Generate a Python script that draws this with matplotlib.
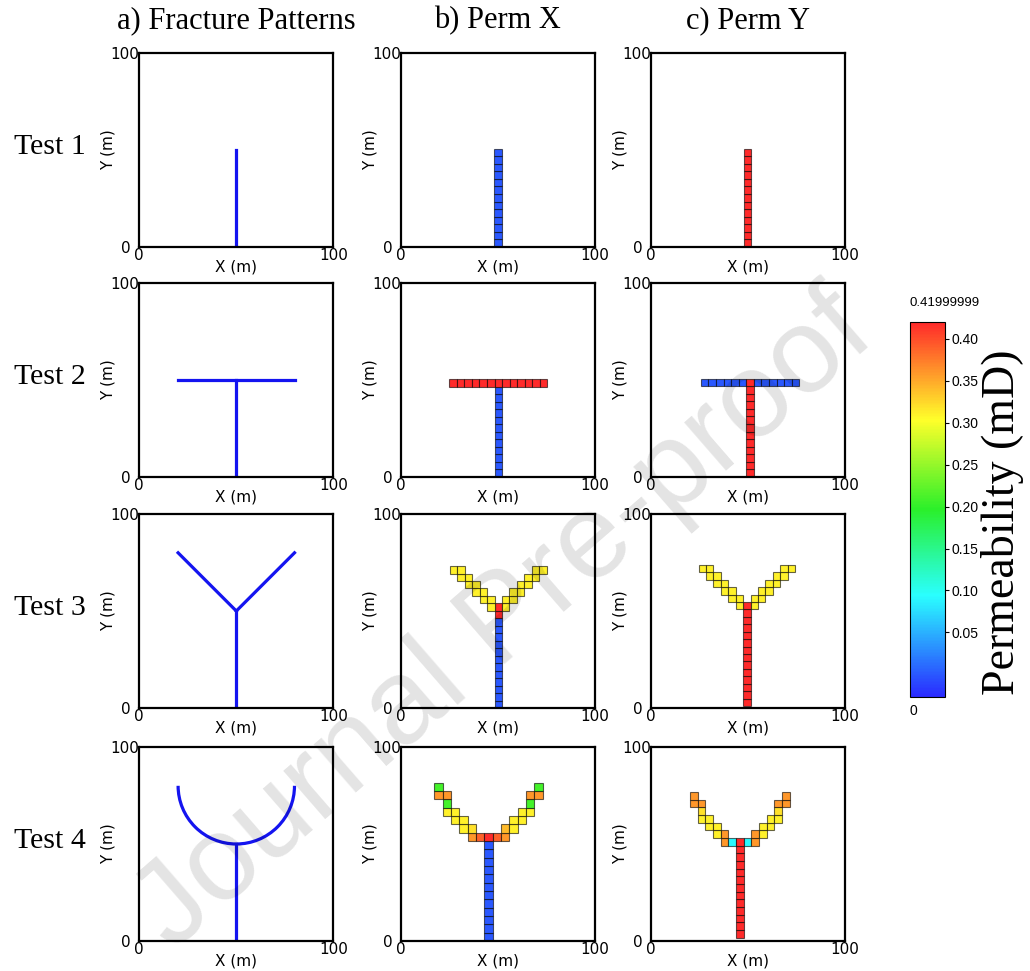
import numpy as np
import matplotlib.pyplot as plt
import matplotlib.cm as cm
from matplotlib.colors import LinearSegmentedColormap, Normalize
from matplotlib.patches import Arc

# ---- fracture traces (m) ----
stem_x = [50, 50]
stem_y = [0, 50]
t2_bar_x = [20, 80]
t2_bar_y = [50, 50]
t3_left_x = [50, 20]
t3_left_y = [50, 80]
t3_right_x = [50, 80]
t3_right_y = [50, 80]
t4_arc_center = (50, 80)
t4_arc_radius = 30

# ---- fracture cells: column / row index from the stem cell, perm X / perm Y (mD) ----
t1_col = [0] * 13
t1_row = list(range(13))
t1_kx = [0.0] * 13
t1_ky = [0.42] * 13

t2_col = [0] * 12 + [-6, -5, -4, -3, -2, -1, 0, 1, 2, 3, 4, 5, 6]
t2_row = list(range(12)) + [12] * 13
t2_kx = [0.0] * 12 + [0.42] * 13
t2_ky = [0.42] * 12 + [0.0] * 6 + [0.42] + [0.0] * 6

t3_col = [0] * 14 + [-1, 1, -2, -1, 1, 2, -3, -2, 2, 3, -4, -3, 3, 4,
                     -5, -4, 4, 5, -6, -5, 5, 6]
t3_row = list(range(14)) + [13] * 2 + [14] * 4 + [15] * 4 + [16] * 4 + [17] * 4 + [18] * 4
t3_kx = [0.0] * 12 + [0.42] * 2 + [0.31] * 22
t3_ky = [0.42] * 14 + [0.31] * 22

t4_col = [0] * 12 + [-2, -1, 0, 1, 2, -3, -2, 2, 3, -4, -3, 3, 4, -5, -4, 4, 5,
                     -5, 5, -6, -5, 5, 6, -6, 6]
t4_row = list(range(12)) + [12] * 5 + [13] * 4 + [14] * 4 + [15] * 4 + [16] * 2 + [17] * 4 + [18] * 2
t4_kx = [0.0] * 12 + [0.36, 0.39, 0.42, 0.39, 0.36,
                      0.31, 0.32, 0.34, 0.31,
                      0.31, 0.31, 0.31, 0.31,
                      0.31, 0.31, 0.31, 0.31,
                      0.21, 0.21,
                      0.36, 0.36, 0.36, 0.36,
                      0.21, 0.21]
t4_ky = [0.42] * 12 + [0.36, 0.09, 0.42, 0.09, 0.36,
                       0.31, 0.36, 0.36, 0.31,
                       0.31, 0.31, 0.31, 0.31,
                       0.31, 0.31, 0.31, 0.31,
                       0.32, 0.32,
                       0.36, 0.36, 0.36, 0.36,
                       0.36, 0.36]

cells = [
    (t1_col, t1_row, t1_kx, t1_ky),
    (t2_col, t2_row, t2_kx, t2_ky),
    (t3_col, t3_row, t3_kx, t3_ky),
    (t4_col, t4_row, t4_kx, t4_ky),
]

# cell size, stem x centre, base y for (perm X, perm Y) of each test
geom_x = [(3.9, 50.3, 0.0), (3.88, 50.3, 0.0), (3.85, 50.3, 0.0), (4.3, 45.3, 0.0)]
geom_y = [(3.9, 50.0, 0.0), (3.9, 51.2, 0.0), (3.83, 49.6, 1.0), (3.95, 45.9, 1.7)]

col_titles = ["a) Fracture Patterns", "b) Perm X", "c) Perm Y"]
row_titles = ["Test 1", "Test 2", "Test 3", "Test 4"]
cbar_ticks = [0.05, 0.10, 0.15, 0.20, 0.25, 0.30, 0.35, 0.40]

cmap = LinearSegmentedColormap.from_list(
    "perm",
    [(0.0, "#2a2aff"), (0.27, "#2affff"), (0.5, "#2af02a"), (0.74, "#ffff2a"), (1.0, "#ff2a2a")],
)
norm = Normalize(vmin=-0.027, vmax=0.42)

W, H = 1030, 971
col_left = [139.3, 400.7, 650.7]
row_bottom = [247, 477, 708, 941]
box = 194

frac_color = "#1414f0"


def style_axes(ax):
    ax.set_xlim(0, 100)
    ax.set_ylim(0, 100)
    ax.set_xticks([0, 100])
    ax.set_yticks([0, 100])
    ax.tick_params(length=0, labelsize=11)
    ax.tick_params(axis="x", pad=1)
    ax.tick_params(axis="y", pad=6)
    ax.yaxis.get_major_ticks()[1].set_pad(0)
    for sp in ax.spines.values():
        sp.set_linewidth(1.6)
    ax.set_xlabel("X (m)", fontsize=11)
    ax.set_ylabel("Y (m)", fontsize=11)
    ax.xaxis.set_label_coords(0.5, -0.065)
    ax.yaxis.set_label_coords(-0.12, 0.5)


def draw_cells(ax, col, row, k, geom):
    s, x0, y0 = geom
    x = x0 + np.array(col) * s
    y = y0 + np.array(row) * s
    ax.bar(x, s, width=s, bottom=y, color=cmap(norm(np.array(k))),
           edgecolor=(0, 0, 0, 0.6), linewidth=0.8)


def draw_fractures(ax, test):
    ax.plot(stem_x, stem_y, color=frac_color, lw=2.3)
    if test == 1:
        ax.plot(t2_bar_x, t2_bar_y, color=frac_color, lw=2.3)
    elif test == 2:
        ax.plot(t3_left_x, t3_left_y, color=frac_color, lw=2.3)
        ax.plot(t3_right_x, t3_right_y, color=frac_color, lw=2.3)
    elif test == 3:
        ax.add_patch(Arc(t4_arc_center, 2 * t4_arc_radius, 2 * t4_arc_radius,
                         theta1=180, theta2=360, color=frac_color, lw=2.3))


fig = plt.figure(figsize=(W / 100, H / 100), dpi=100)

for r in range(4):
    for c in range(3):
        ax = fig.add_axes([col_left[c] / W, 1 - row_bottom[r] / H, box / W, box / H])
        col, row, kx, ky = cells[r]
        if c == 0:
            draw_fractures(ax, r)
        elif c == 1:
            draw_cells(ax, col, row, kx, geom_x[r])
        else:
            draw_cells(ax, col, row, ky, geom_y[r])
        style_axes(ax)

for c in range(3):
    fig.text((col_left[c] + box / 2) / W, 1 - 21 / H, col_titles[c],
             ha="center", va="center", fontsize=22, family="Liberation Serif")
for r in range(4):
    fig.text(50 / W, 1 - (row_bottom[r] - box / 2 - 3) / H, row_titles[r],
             ha="center", va="center", fontsize=21.5, family="Liberation Serif")

# colour bar
cax = fig.add_axes([910 / W, 1 - 697 / H, 35 / W, 375 / H])
cb = fig.colorbar(cm.ScalarMappable(norm=norm, cmap=cmap), cax=cax, ticks=cbar_ticks)
cb.ax.set_yticklabels(["%.2f" % t for t in cbar_ticks], family="Liberation Sans")
cb.ax.tick_params(length=3, width=0.8, labelsize=10, pad=2)
cb.outline.set_linewidth(0.8)
fig.text(910 / W, 1 - 303 / H, "0.41999999", ha="left", va="center",
         fontsize=9.5, family="Liberation Sans")
fig.text(910 / W, 1 - 711 / H, "0", ha="left", va="center",
         fontsize=10, family="Liberation Sans")
fig.text(1002 / W, 1 - 522 / H, "Permeability (mD)", rotation=90, ha="center",
         va="center", fontsize=33, family="Liberation Serif")

# watermark
fig.text(505 / W, 1 - 622 / H, "Journal Pre-proof", rotation=41, ha="center",
         va="center", fontsize=87, family="Liberation Sans", color="black",
         alpha=0.11, zorder=10)

fig.savefig("out.png", dpi=100)
